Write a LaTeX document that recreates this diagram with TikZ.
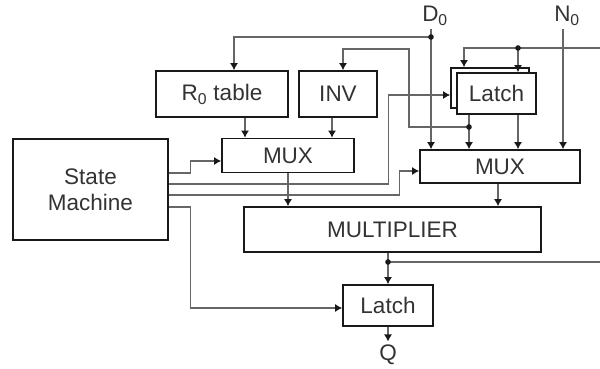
\documentclass[tikz,border=0pt]{standalone}
\usepackage{fontspec}
\setmainfont{Liberation Sans}
\usetikzlibrary{arrows.meta,positioning}

\begin{document}
\begin{tikzpicture}[x=1pt, y=-1pt,
  every node/.style={font=\fontsize{22.5}{26}\selectfont, text=black!80},
  blk/.style={draw=black!90, line width=1.8pt, inner sep=0pt, fill=white},
  wire/.style={draw=black!60, line width=1.1pt},
  arr/.style={wire, -{Latex[length=7pt,width=8pt,color=black!90]}}]
  \useasboundingbox (0,0) rectangle (600,368);

  % Nodes
  \node[blk, minimum width=155, minimum height=101, align=center] (sm) at (90.5,189.5) {State\\Machine};
  \node[blk, minimum width=132, minimum height=46] (r0) at (222,94) {R\textsubscript{0} table};
  \node[blk, minimum width=78, minimum height=46] (inv) at (338,94) {INV};
  \node[blk, minimum width=132, minimum height=34] (mux1) at (288,155.5) {MUX};
  \node[blk, minimum width=78, minimum height=40] (latchb) at (490,88) {};
  \node[blk, minimum width=79, minimum height=41] (latch) at (496.5,93.5) {Latch};
  \node[blk, minimum width=160, minimum height=33] (mux2) at (500,166.5) {MUX};
  \node[blk, minimum width=297, minimum height=45] (mult) at (392.5,229.5) {MULTIPLIER};
  \node[blk, minimum width=90, minimum height=41] (latch2) at (388,305.5) {Latch};
  \node (d0) at (435,16) {D\textsubscript{0}};
  \node (n0) at (567,16) {N\textsubscript{0}};
  \node (q) at (388,355) {Q};

  % Junctions
  \coordinate (ddot) at (431,37);
  \coordinate (ldot) at (469,127);
  \coordinate (fdot) at (518,48);
  \coordinate (fin) at (600,48);
  \coordinate (mdot) at (388,262);
  \coordinate (mout) at (600,262);

  % D0 into MUX and R0 table
  \draw[wire] (d0.south -| ddot) -- (ddot);
  \draw[arr] (ddot) -- (ddot |- mux2.north);
  \draw[arr] (ddot) -| ([xshift=12]r0.north);

  % Latch output back to INV and into MUX
  \draw[wire] (latch.south -| ldot) -- (ldot);
  \draw[arr] (ldot) -- (ldot |- mux2.north);
  \draw[arr] (ldot) -| (409,49) -| ([xshift=5]inv.north);

  % Feedback into the latches
  \draw[arr] (fin) -- (fdot) -| ([xshift=-26]latchb.north);
  \draw[arr] (fdot) -- (fdot |- latch.north);
  \draw[arr] (latch.south -| fdot) -- (fdot |- mux2.north);
  \draw[arr] (n0.south -| 563,0) -- (563,0 |- mux2.north);

  % State machine controls
  \draw[arr] ([yshift=16.5]sm.east) -- ++(22,0) |- ([yshift=-5.5]mux1.west);
  \draw[arr] ([yshift=5.5]sm.east) -- ++(220,0) |- ([yshift=-7]latchb.west);
  \draw[arr] ([yshift=-5.5]sm.east) -- ++(231,0) |- ([yshift=-4.5]mux2.west);
  \draw[arr] ([yshift=-17.5]sm.east) -- ++(22,0) |- ([yshift=-2.5]latch2.west);

  % Data path
  \draw[arr] ([xshift=23]r0.south) -- ([xshift=-43]mux1.north);
  \draw[arr] ([xshift=-6]inv.south) -- ([xshift=44]mux1.north);
  \draw[arr] (mux1.south) -- ([xshift=-104.5]mult.north);
  \draw[arr] ([xshift=-2]mux2.south) -- ([xshift=105.5]mult.north);
  \draw[wire] ([xshift=-4.5]mult.south) -- (mdot) -- (mout);
  \draw[arr] (mdot) -- (latch2.north);
  \draw[arr] (latch2.south) -- (q.north);

  % Dots
  \foreach \j in {ddot, ldot, fdot, mdot}
    \fill[black!90] (\j) circle (2.8);
\end{tikzpicture}
\end{document}
